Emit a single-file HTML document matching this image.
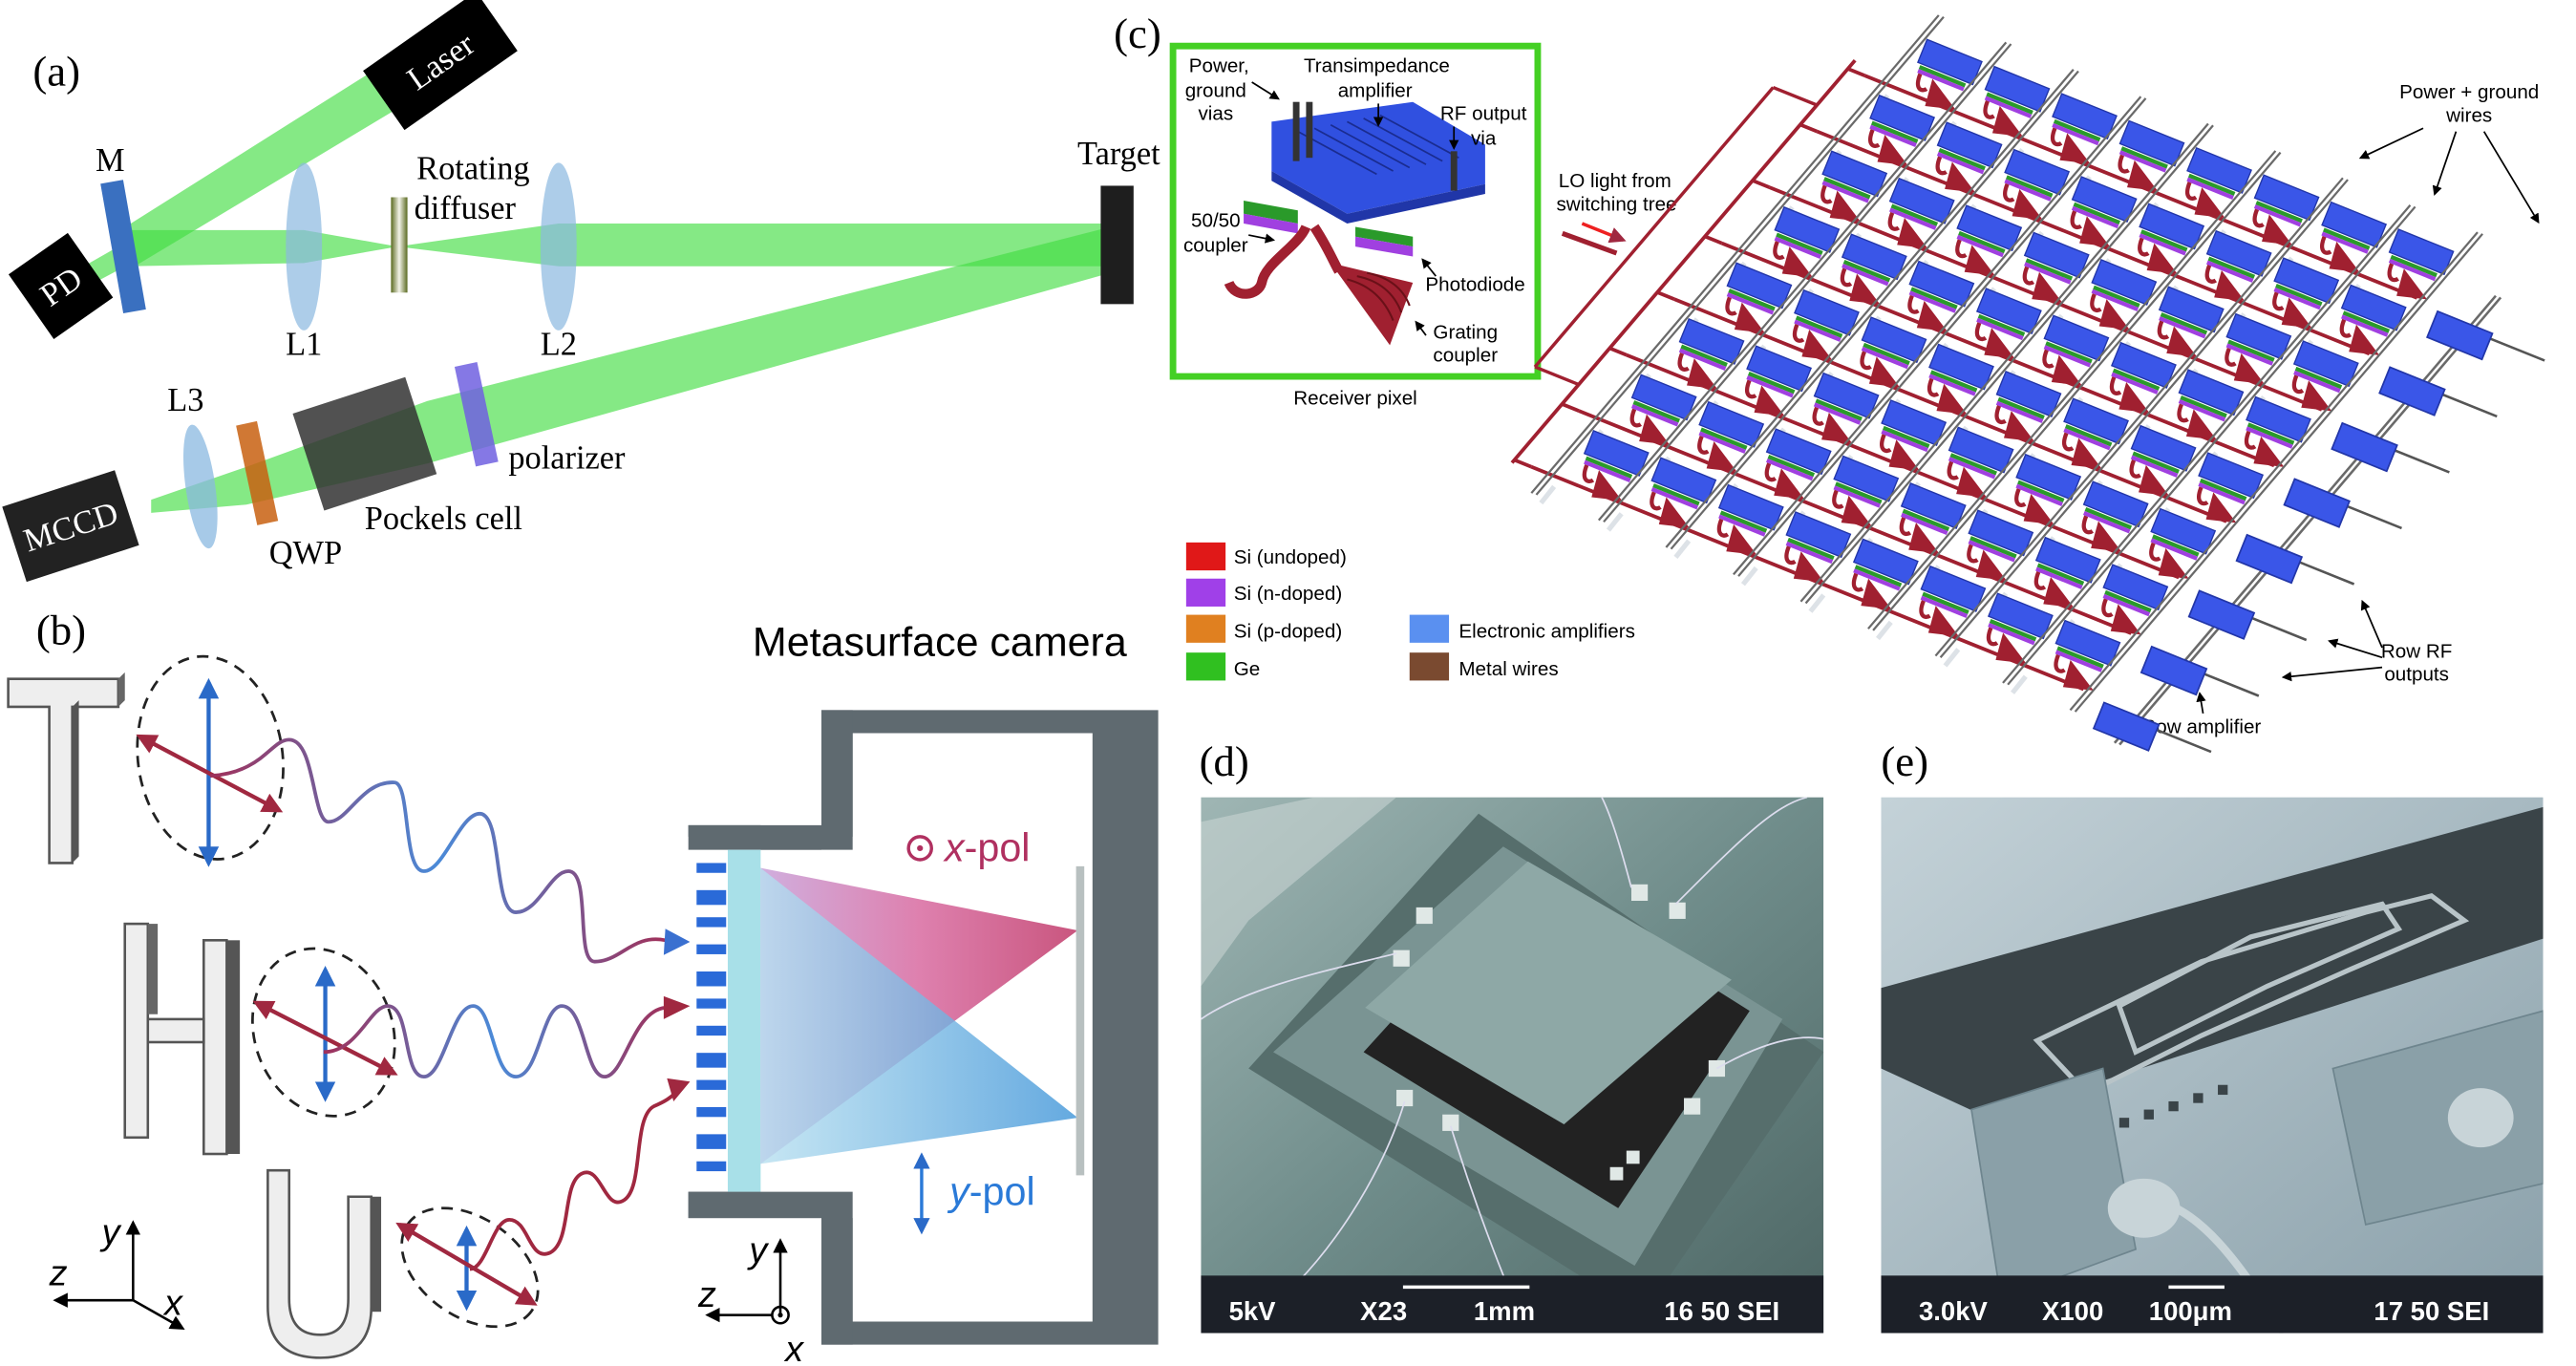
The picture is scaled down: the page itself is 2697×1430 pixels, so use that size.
<!DOCTYPE html>
<html><head><meta charset="utf-8">
<style>
html,body{margin:0;padding:0;background:#fff;}
svg{display:block;}
.serif{font-family:"Liberation Serif",serif;}
.sans{font-family:"Liberation Sans",sans-serif;}
</style></head>
<body>
<svg id="s" width="2697" height="1430" viewBox="0 0 1568 831" preserveAspectRatio="none" xmlns="http://www.w3.org/2000/svg">
<defs>
<linearGradient id="diff" x1="0" x2="1" y1="0" y2="0"><stop offset="0" stop-color="#5a6a20"/><stop offset="0.5" stop-color="#f4f4ea"/><stop offset="1" stop-color="#5a6a20"/></linearGradient>
<linearGradient id="pink" x1="0" x2="1"><stop offset="0" stop-color="#c8a0d8"/><stop offset="0.5" stop-color="#d86aa0"/><stop offset="1" stop-color="#c03868"/></linearGradient>
<linearGradient id="blu" x1="0" x2="1"><stop offset="0" stop-color="#b8e0f0"/><stop offset="1" stop-color="#3e94d8"/></linearGradient>
<linearGradient id="wave1" x1="0" x2="1"><stop offset="0" stop-color="#a0305a"/><stop offset="0.5" stop-color="#4a8ad8"/><stop offset="1" stop-color="#a0305a"/></linearGradient>
<linearGradient id="semd" x1="0" y1="0" x2="1" y2="1"><stop offset="0" stop-color="#9fb6b4"/><stop offset="0.5" stop-color="#6f8c8a"/><stop offset="1" stop-color="#4d6664"/></linearGradient>
<linearGradient id="seme" x1="0" y1="0" x2="1" y2="1"><stop offset="0" stop-color="#c4d2d8"/><stop offset="1" stop-color="#8aa0aa"/></linearGradient>
<marker id="ab" viewBox="0 0 10 10" refX="8" refY="5" markerWidth="5" markerHeight="5" orient="auto-start-reverse"><path d="M0,0 L10,5 L0,10 z" fill="#2a6ac8"/></marker>
<marker id="ar" viewBox="0 0 10 10" refX="8" refY="5" markerWidth="5" markerHeight="5" orient="auto-start-reverse"><path d="M0,0 L10,5 L0,10 z" fill="#a02840"/></marker>
<marker id="ak" viewBox="0 0 10 10" refX="8" refY="5" markerWidth="6" markerHeight="6" orient="auto-start-reverse"><path d="M0,0 L10,5 L0,10 z" fill="#000"/></marker>
</defs>

<!-- ========== Panel (a) ========== -->
<text x="20" y="52" class="serif" font-size="26">(a)</text>
<g fill="#44dd44" fill-opacity="0.65">
<polygon points="232,40 252,60 82,162 70,142"/>
<polygon points="78,140 185,140 242,150 185,160 78,162"/>
<polygon points="242,150 340,136 676,136 676,162 340,162"/>
<polygon points="676,138 676,166 260,282 150,307 92,312 92,304 150,284 260,244"/>
<polygon points="72,150 80,160 50,176 44,166"/>
</g>
<g transform="translate(268,37) rotate(-35)"><rect x="-42" y="-22" width="84" height="44" fill="#000"/><text x="0" y="7" fill="#fff" class="serif" font-size="20" text-anchor="middle">Laser</text></g>
<g transform="translate(75,150) rotate(-10)"><rect x="-7" y="-40" width="14" height="80" fill="#3a70c0"/></g>
<text x="67" y="104" class="serif" font-size="20" text-anchor="middle">M</text>
<g transform="translate(37,174) rotate(-35)"><rect x="-22" y="-24" width="44" height="48" fill="#000"/><text x="0" y="7" fill="#fff" class="serif" font-size="20" text-anchor="middle">PD</text></g>
<ellipse cx="185" cy="150" rx="11" ry="51" fill="#8ab8e0" fill-opacity="0.7"/>
<text x="185" y="216" class="serif" font-size="20" text-anchor="middle">L1</text>
<rect x="238" y="120" width="10" height="58" fill="url(#diff)"/>
<text x="288" y="109" class="serif" font-size="20" text-anchor="middle">Rotating</text>
<text x="283" y="133" class="serif" font-size="20" text-anchor="middle">diffuser</text>
<ellipse cx="340" cy="150" rx="11" ry="51" fill="#8ab8e0" fill-opacity="0.7"/>
<text x="340" y="216" class="serif" font-size="20" text-anchor="middle">L2</text>
<rect x="670" y="113" width="20" height="72" fill="#1e1e1e"/>
<text x="681" y="100" class="serif" font-size="20" text-anchor="middle">Target</text>
<g transform="translate(290,252) rotate(-12)"><rect x="-7" y="-31" width="14" height="62" fill="#7060e0" fill-opacity="0.85"/></g>
<text x="345" y="285" class="serif" font-size="20" text-anchor="middle">polarizer</text>
<g transform="translate(222,270) rotate(-18)"><rect x="-36" y="-31" width="72" height="62" fill="#333" fill-opacity="0.85"/></g>
<text x="270" y="322" class="serif" font-size="20" text-anchor="middle">Pockels cell</text>
<g transform="translate(156,288) rotate(-12)"><rect x="-6" y="-31" width="13" height="62" fill="#c86010" fill-opacity="0.85"/></g>
<text x="186" y="343" class="serif" font-size="20" text-anchor="middle">QWP</text>
<ellipse cx="122" cy="296" rx="9" ry="38" fill="#8ab8e0" fill-opacity="0.75" transform="rotate(-8 122 296)"/>
<text x="113" y="250" class="serif" font-size="20" text-anchor="middle">L3</text>
<g transform="translate(43,320) rotate(-18)"><rect x="-36" y="-24" width="72" height="48" fill="#222"/><text x="0" y="7" fill="#fff" class="serif" font-size="20" text-anchor="middle">MCCD</text></g>

<!-- ========== Panel (c) ========== -->
<text x="678" y="29" class="serif" font-size="26">(c)</text>
<rect x="714" y="28" width="222" height="201" fill="#fff" stroke="#44d024" stroke-width="4"/>
<polygon points="774,74 860,62 904,88 904,112 820,130 774,104" fill="#3050e0"/>
<polygon points="774,104 820,130 904,112 904,118 820,136 774,110" fill="#2036a8"/>
<g stroke="#1a2c90" stroke-width="1">
<line x1="790" y1="80" x2="838" y2="106"/><line x1="800" y1="78" x2="848" y2="104"/><line x1="810" y1="76" x2="858" y2="102"/><line x1="820" y1="74" x2="868" y2="100"/><line x1="830" y1="72" x2="878" y2="98"/><line x1="840" y1="70" x2="888" y2="96"/>
</g>
<rect x="787" y="62" width="4" height="36" fill="#333"/><rect x="795" y="62" width="4" height="34" fill="#333"/><rect x="883" y="92" width="4" height="24" fill="#333"/>
<polygon points="757,122 790,128 790,136 757,130" fill="#2a9a2a"/><polygon points="757,130 790,136 790,142 757,136" fill="#a040e0"/>
<polygon points="825,138 860,144 860,150 825,144" fill="#2a9a2a"/><polygon points="825,144 860,150 860,156 825,150" fill="#a040e0"/>
<path d="M795,138 C790,150 770,160 768,172 C766,180 752,182 748,172" stroke="#a02030" stroke-width="6" fill="none"/>
<path d="M800,138 C808,150 812,160 815,165" stroke="#a02030" stroke-width="6" fill="none"/>
<path d="M810,160 L860,172 L846,210 Z" fill="#a02030"/>
<g stroke="#6a1018" stroke-width="1.2" fill="none"><path d="M820,170 Q840,175 848,195"/><path d="M826,168 Q846,172 853,190"/><path d="M832,166 Q852,170 858,186"/></g>
<g class="sans" font-size="12" text-anchor="middle">
<text x="742" y="44">Power,</text><text x="740" y="59">ground</text><text x="740" y="73">vias</text>
<text x="838" y="44">Transimpedance</text><text x="837" y="59">amplifier</text>
<text x="903" y="73">RF output</text><text x="903" y="88">via</text>
<text x="740" y="138">50/50</text><text x="740" y="153">coupler</text>
<text x="898" y="177">Photodiode</text>
<text x="892" y="206">Grating</text><text x="892" y="220">coupler</text>
<text x="825" y="246">Receiver pixel</text>
<text x="983" y="114">LO light from</text><text x="984" y="128">switching tree</text>
<text x="1503" y="60">Power + ground</text><text x="1503" y="74">wires</text>
<text x="1471" y="400">Row RF</text><text x="1471" y="414">outputs</text>
<text x="1340" y="446">Row amplifier</text>
</g>
<g stroke="#000" stroke-width="1" marker-end="url(#ak)" fill="none">
<line x1="762" y1="50" x2="778" y2="60"/><line x1="839" y1="63" x2="839" y2="76"/><line x1="885" y1="77" x2="885" y2="90"/>
<line x1="760" y1="143" x2="775" y2="146"/><line x1="874" y1="168" x2="866" y2="158"/><line x1="868" y1="204" x2="862" y2="196"/>
<line x1="1475" y1="78" x2="1437" y2="96"/><line x1="1495" y1="80" x2="1482" y2="118"/><line x1="1512" y1="80" x2="1545" y2="135"/>
<line x1="1450" y1="394" x2="1438" y2="366"/><line x1="1450" y1="400" x2="1418" y2="390"/><line x1="1450" y1="406" x2="1390" y2="412"/>
<line x1="1341" y1="434" x2="1339" y2="422"/>
</g>
<g class="sans" font-size="12">
<rect x="722" y="330" width="24" height="17" fill="#e01818"/><text x="751" y="343">Si (undoped)</text>
<rect x="722" y="352" width="24" height="17" fill="#a040e8"/><text x="751" y="365">Si (n-doped)</text>
<rect x="722" y="374" width="24" height="17" fill="#e08020"/><text x="751" y="388">Si (p-doped)</text>
<rect x="722" y="397" width="24" height="17" fill="#30c020"/><text x="751" y="411">Ge</text>
<rect x="858" y="374" width="24" height="17" fill="#5a90f0"/><text x="888" y="388">Electronic amplifiers</text>
<rect x="858" y="397" width="24" height="17" fill="#7a4a30"/><text x="888" y="411">Metal wires</text>
</g>
<g id="arr"></g>
<line x1="951" y1="142" x2="984" y2="154" stroke="#a02030" stroke-width="3"/>
<line x1="963" y1="136" x2="988" y2="146" stroke="#ee2020" stroke-width="2" marker-end="url(#ar)"/>

<!-- ========== Panel (b) ========== -->
<text x="22" y="392" class="serif" font-size="26">(b)</text>
<text x="572" y="399" class="sans" font-size="25" text-anchor="middle">Metasurface camera</text>
<polygon points="5,413 72,413 72,430 44,430 44,525 30,525 30,430 5,430" fill="#eee" stroke="#555" stroke-width="1.5"/>
<polygon points="72,413 76,409 76,426 72,430" fill="#666"/><polygon points="44,430 48,426 48,521 44,525" fill="#555"/>
<g fill="#eee" stroke="#555" stroke-width="1.5">
<rect x="76" y="562" width="14" height="130"/><rect x="124" y="572" width="14" height="130"/><rect x="90" y="620" width="34" height="14"/>
</g>
<rect x="138" y="572" width="8" height="130" fill="#555"/><rect x="90" y="562" width="6" height="55" fill="#666"/>
<path d="M163,712 L176,712 L176,790 Q176,812 195,812 Q212,812 212,790 L212,728 L226,728 L226,795 Q226,826 195,826 Q163,826 163,795 Z" fill="#eee" stroke="#555" stroke-width="1.5"/>
<rect x="226" y="728" width="6" height="70" fill="#555"/>
<ellipse cx="128" cy="461" rx="44" ry="62" fill="none" stroke="#222" stroke-width="1.6" stroke-dasharray="7,5" transform="rotate(-8 128 461)"/>
<line x1="127" y1="415" x2="127" y2="525" stroke="#2a6ac8" stroke-width="2.5" marker-start="url(#ab)" marker-end="url(#ab)"/>
<line x1="85" y1="448" x2="170" y2="493" stroke="#a02840" stroke-width="2.5" marker-start="url(#ar)" marker-end="url(#ar)"/>
<ellipse cx="197" cy="628" rx="42" ry="52" fill="none" stroke="#222" stroke-width="1.6" stroke-dasharray="7,5" transform="rotate(-20 197 628)"/>
<line x1="198" y1="590" x2="198" y2="668" stroke="#2a6ac8" stroke-width="2.5" marker-start="url(#ab)" marker-end="url(#ab)"/>
<line x1="156" y1="610" x2="240" y2="653" stroke="#a02840" stroke-width="2.5" marker-start="url(#ar)" marker-end="url(#ar)"/>
<ellipse cx="286" cy="771" rx="46" ry="30" fill="none" stroke="#222" stroke-width="1.6" stroke-dasharray="7,5" transform="rotate(35 286 771)"/>
<line x1="284" y1="748" x2="284" y2="795" stroke="#2a6ac8" stroke-width="2.5" marker-start="url(#ab)" marker-end="url(#ab)"/>
<line x1="243" y1="745" x2="325" y2="793" stroke="#a02840" stroke-width="2.5" marker-start="url(#ar)" marker-end="url(#ar)"/>
<g fill="none" stroke-width="2.2">
<path d="M128,472 C160,470 165,450 176,450 C192,450 190,500 200,500 C212,500 220,475 240,476 C250,476 245,530 258,530 C270,530 280,495 292,495 C306,495 300,555 314,555 C328,555 335,530 346,530 C360,530 350,585 362,585 C378,585 385,568 405,572" stroke="url(#wave1)"/>
<path d="M197,640 C218,640 225,612 236,612 C250,612 245,655 258,655 C270,655 275,612 288,612 C300,612 300,655 314,655 C328,655 330,612 342,612 C356,612 356,655 368,655 C380,655 385,615 405,613" stroke="url(#wave1)"/>
<path d="M286,772 C296,772 300,742 310,742 C322,742 322,768 335,762 C348,755 342,720 354,714 C366,708 368,738 380,730 C392,722 385,680 398,673 C405,670 408,668 412,664" stroke="#a02840"/>
</g>
<polygon points="405,565 420,573 404,581" fill="#3a70d0"/>
<polygon points="404,606 420,612 404,620" fill="#a02840"/>
<polygon points="406,656 420,658 410,670" fill="#a02840"/>
<path d="M500,432 L705,432 L705,818 L500,818 L500,740 L463,740 L463,725 L419,725 L419,741 L519,741 L519,804 L665,804 L665,446 L519,446 L519,509 L419,509 L419,502 L463,502 L463,517 L500,517 Z" fill="#5f6a70"/>
<path d="M419,502 L500,502 L500,432 L519,432 L519,517 L419,517 Z" fill="#5f6a70"/>
<path d="M419,725 L519,725 L519,818 L500,818 L500,741 L419,741 Z" fill="#5f6a70"/>
<rect x="443" y="517" width="20" height="208" fill="#a8e0e8"/>
<g fill="#2a6ad8" id="bars"></g>
<polygon points="463,528 656,566 463,708" fill="url(#pink)" fill-opacity="0.85"/>
<polygon points="463,528 656,680 463,708" fill="url(#blu)" fill-opacity="0.8"/>
<rect x="655" y="527" width="5" height="188" fill="#b8c0c0"/>
<circle cx="560" cy="516" r="7" fill="none" stroke="#b03060" stroke-width="2"/><circle cx="560" cy="516" r="1.8" fill="#b03060"/>
<text x="575" y="524" class="sans" font-size="24" fill="#b03060"><tspan font-style="italic">x</tspan>-pol</text>
<line x1="561" y1="703" x2="561" y2="749" stroke="#2a7ad8" stroke-width="2" marker-start="url(#ab)" marker-end="url(#ab)"/>
<text x="578" y="733" class="sans" font-size="24" fill="#2a7ad8"><tspan font-style="italic">y</tspan>-pol</text>
<g stroke="#000" stroke-width="1.5" fill="none">
<line x1="81" y1="791" x2="81" y2="744" marker-end="url(#ak)"/><line x1="81" y1="791" x2="34" y2="791" marker-end="url(#ak)"/><line x1="81" y1="791" x2="111" y2="808" marker-end="url(#ak)"/>
<line x1="475" y1="800" x2="475" y2="755" marker-end="url(#ak)"/><line x1="470" y1="800" x2="431" y2="800" marker-end="url(#ak)"/>
<circle cx="475" cy="800" r="5"/>
</g>
<circle cx="475" cy="800" r="1.5"/>
<g class="sans" font-style="italic" font-size="22">
<text x="62" y="757">y</text><text x="30" y="782">z</text><text x="100" y="800">x</text>
<text x="456" y="768">y</text><text x="425" y="795">z</text><text x="478" y="828">x</text>
</g>

<!-- ========== Panel (d) ========== -->
<text x="730" y="472" class="serif" font-size="26">(d)</text>
<svg x="731" y="485" width="379" height="326" viewBox="731 485 379 326">
<rect x="731" y="485" width="379" height="326" fill="url(#semd)"/>
<polygon points="731,500 800,485 850,485 760,560 731,600" fill="#c8d4d2" opacity="0.6"/>
<polygon points="900,495 1110,640 1000,800 760,650" fill="#566e6c"/>
<polygon points="915,515 1085,620 995,770 775,640" fill="#7a9493"/>
<polygon points="930,530 1065,615 985,735 830,640" fill="#222"/>
<polygon points="930,524 1054,596 952,684 831,613" fill="#8ea8a6"/>
<g fill="#e0e8e6"><rect x="862" y="552" width="10" height="10"/><rect x="848" y="578" width="10" height="10"/><rect x="993" y="538" width="10" height="10"/><rect x="1016" y="549" width="10" height="10"/><rect x="850" y="663" width="10" height="10"/><rect x="878" y="678" width="10" height="10"/><rect x="1040" y="645" width="10" height="10"/><rect x="1025" y="668" width="10" height="10"/><rect x="990" y="700" width="8" height="8"/><rect x="980" y="710" width="8" height="8"/></g>
<g stroke="#dde" stroke-width="1" fill="none"><path d="M993,540 C985,510 980,495 975,485"/><path d="M1020,550 C1060,510 1080,490 1100,485"/><path d="M850,580 C810,590 760,600 731,620"/><path d="M855,670 C840,720 800,780 760,805"/><path d="M1045,650 C1080,630 1100,630 1110,632"/><path d="M883,685 C900,740 920,790 930,810"/></g>
<rect x="731" y="776" width="379" height="35" fill="#1c2028"/>
<line x1="854" y1="783" x2="931" y2="783" stroke="#fff" stroke-width="2"/>
<g fill="#fff" class="sans" font-size="16" font-weight="bold"><text x="748" y="803">5kV</text><text x="828" y="803">X23</text><text x="897" y="803">1mm</text><text x="1013" y="803">16 50 SEI</text></g>
</svg>

<!-- ========== Panel (e) ========== -->
<text x="1145" y="472" class="serif" font-size="26">(e)</text>
<svg x="1145" y="485" width="403" height="326" viewBox="1145 485 403 326">
<rect x="1145" y="485" width="403" height="326" fill="url(#seme)"/>
<polygon points="1145,601 1548,491 1548,571 1210,680 1145,650" fill="#3a4448"/>
<polygon points="1240,633 1340,585 1440,555 1480,545 1500,560 1430,590 1340,630 1270,665" fill="none" stroke="#b8c4c8" stroke-width="3"/>
<polygon points="1290,612 1370,570 1450,550 1460,565 1380,600 1300,640" fill="none" stroke="#b8c4c8" stroke-width="3"/>
<polygon points="1200,675 1280,650 1300,760 1218,790" fill="#8aa0a8" stroke="#6e858e"/>
<polygon points="1420,650 1548,615 1548,720 1440,745" fill="#8aa0a8" stroke="#6e858e"/>
<ellipse cx="1305" cy="735" rx="22" ry="18" fill="#c8d4d8"/><ellipse cx="1510" cy="680" rx="20" ry="18" fill="#c8d4d8"/>
<path d="M1305,730 C1340,730 1370,780 1390,811" stroke="#c8d4d8" stroke-width="5" fill="none"/>
<g fill="#3a4448"><rect x="1290" y="680" width="6" height="6"/><rect x="1305" y="675" width="6" height="6"/><rect x="1320" y="670" width="6" height="6"/><rect x="1335" y="665" width="6" height="6"/><rect x="1350" y="660" width="6" height="6"/></g>
<rect x="1145" y="776" width="403" height="35" fill="#1c2028"/>
<line x1="1320" y1="783" x2="1354" y2="783" stroke="#fff" stroke-width="2"/>
<g fill="#fff" class="sans" font-size="16" font-weight="bold"><text x="1168" y="803">3.0kV</text><text x="1243" y="803">X100</text><text x="1308" y="803">100μm</text><text x="1445" y="803">17 50 SEI</text></g>
</svg>
</svg>
<script>
(function(){
var NS="http://www.w3.org/2000/svg";
function el(p,t,a){var e=document.createElementNS(NS,t);for(var k in a)e.setAttribute(k,a[k]);p.appendChild(e);return e;}
var b=document.getElementById('bars');
for(var i=0;i<12;i++){var y=525+i*16.5;el(b,'rect',{x:424,y:y,width:18,height:(i%3==1?9:6)});}
var g=document.getElementById('arr');
var O=[1172,22],u=[41,16.5],v=[-29,34],C=8,R=8;
function P(i,j){return [O[0]+i*u[0]+j*v[0],O[1]+i*u[1]+j*v[1]];}
for(var j=0;j<R;j++)for(var i=0;i<C;i++){var p=P(i,j+1);el(g,'line',{x1:p[0]+6,y1:p[1]+2,x2:p[0]-2,y2:p[1]+12,stroke:'#c8d0d8','stroke-width':3,opacity:0.6});}
for(var j=0;j<R;j++){var a=P(-0.3,j+0.85),c=P(C-0.1,j+0.85);el(g,'line',{x1:a[0],y1:a[1],x2:c[0],y2:c[1],stroke:'#a02030','stroke-width':2.2});}
var t1=P(-0.55,0.7),t2=P(-0.55,R-0.1);
el(g,'line',{x1:t1[0],y1:t1[1],x2:t2[0],y2:t2[1],stroke:'#a02030','stroke-width':2.2});
for(var j=0;j<R;j++){var a=P(-0.55,j+0.85),c=P(-0.3,j+0.85);el(g,'line',{x1:a[0],y1:a[1],x2:c[0],y2:c[1],stroke:'#a02030','stroke-width':2.2});}
var t3=P(-1.2,1.5),t4=P(-1.2,6.5);el(g,'line',{x1:t3[0],y1:t3[1],x2:t4[0],y2:t4[1],stroke:'#a02030','stroke-width':2});
el(g,'line',{x1:t3[0],y1:t3[1],x2:P(-0.55,1.5)[0],y2:P(-0.55,1.5)[1],stroke:'#a02030','stroke-width':2});
el(g,'line',{x1:t4[0],y1:t4[1],x2:P(-0.55,6.5)[0],y2:P(-0.55,6.5)[1],stroke:'#a02030','stroke-width':2});
for(var j=0;j<R;j++)for(var i=0;i<C;i++){
 var p=P(i,j),x=p[0],y=p[1];
 var gg=el(g,'g',{transform:'translate('+(x+1)+','+(y+2)+') rotate(22)'});
 el(gg,'rect',{x:0,y:0,width:36,height:15,fill:'#3a56e8',stroke:'#2236a8','stroke-width':0.8});
 el(gg,'rect',{x:2,y:16,width:30,height:2.5,fill:'#2a9a2a'});
 el(gg,'rect',{x:2,y:18.5,width:30,height:2.5,fill:'#a040e0'});
 el(gg,'path',{d:'M12,21 L14,38 L32,33 Z',fill:'#a02030'});
 el(gg,'path',{d:'M4,21 C4,31 9,31 11,28',stroke:'#a02030','stroke-width':2.5,fill:'none'});
}
for(var i=0;i<=C;i++){var a=P(i-0.05,-0.35),c=P(i-0.05,R+0.2);
 el(g,'line',{x1:a[0],y1:a[1],x2:c[0],y2:c[1],stroke:'#6a6a6a','stroke-width':1.3});
 el(g,'line',{x1:a[0]+3,y1:a[1]+1,x2:c[0]+3,y2:c[1]+1,stroke:'#6a6a6a','stroke-width':1.3});}
var ra=P(C+0.75,0.4),rb=P(C+0.75,R+0.4);
el(g,'line',{x1:ra[0],y1:ra[1],x2:rb[0],y2:rb[1],stroke:'#6a6a6a','stroke-width':1.5});
el(g,'line',{x1:ra[0]+3,y1:ra[1]+1,x2:rb[0]+3,y2:rb[1]+1,stroke:'#6a6a6a','stroke-width':1.5});
for(var j=0;j<R;j++){var p=P(C+0.75,j+1),q=P(C+1.9,j+1);
 el(g,'line',{x1:p[0],y1:p[1],x2:q[0],y2:q[1],stroke:'#555','stroke-width':1.5});
 var gg=el(g,'g',{transform:'translate('+(p[0]-18)+','+(p[1]-11)+') rotate(22)'});
 el(gg,'rect',{x:0,y:0,width:36,height:17,fill:'#3a56e8',stroke:'#2236a8','stroke-width':1});}
})();
</script>
</body></html>
